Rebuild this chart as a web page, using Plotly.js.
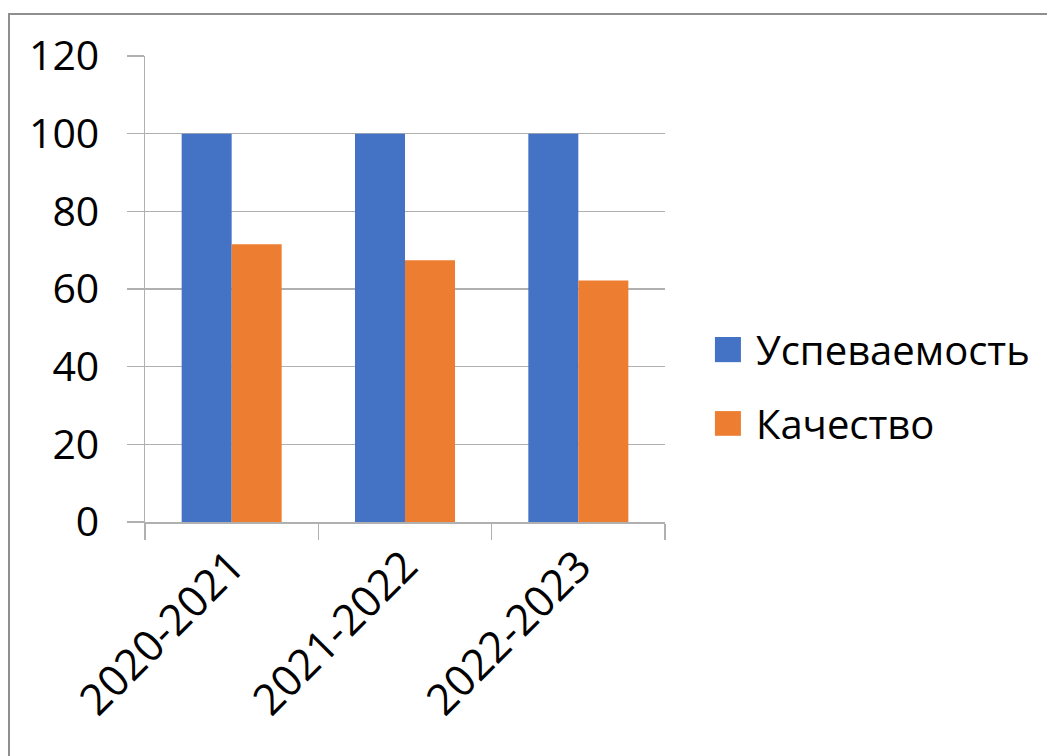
<!DOCTYPE html>
<html>
<head>
<meta charset="utf-8">
<script src="https://cdn.plot.ly/plotly-3.0.1.min.js"></script>
<style>
html,body{margin:0;padding:0;background:#fff;width:1047px;height:756px;overflow:hidden;}
#frame{position:absolute;left:8px;top:13px;width:1100px;height:800px;border-left:2px solid #8f8f8f;border-top:2px solid #8f8f8f;}
#chart{position:absolute;left:0;top:0;width:1047px;height:756px;}
</style>
</head>
<body>
<div id="frame"></div>
<div id="chart"></div>
<script>
const categories = ['2020-2021', '2021-2022', '2022-2023'];
const seriesNames = ['Успеваемость', 'Качество'];
const uspevaemost = [100, 100, 100];
const kachestvo = [71.5, 67.4, 62.2];
const colors = ['#4472C4', '#ED7D31'];

const font = "'Open Sans', 'Noto Sans', sans-serif";

const traces = [
  {type:'bar', x:categories, y:uspevaemost, name:seriesNames[0], marker:{color:colors[0]}, showlegend:false, hoverinfo:'skip'},
  {type:'bar', x:categories, y:kachestvo, name:seriesNames[1], marker:{color:colors[1]}, showlegend:false, hoverinfo:'skip'}
];

const legY = [[0.397,0.343],[0.238,0.185]];
const legTextY = [0.370, 0.211];
const shapes = [];
const annotations = [];
seriesNames.forEach((n,i)=>{
  shapes.push({type:'rect', xref:'paper', yref:'paper', x0:1.096, x1:1.146, y0:legY[i][1], y1:legY[i][0], fillcolor:colors[i], line:{width:0}});
  annotations.push({xref:'paper', yref:'paper', x:1.171, y:legTextY[i], xanchor:'left', yanchor:'middle', text:n, showarrow:false, font:{family:font, size:40, color:'#000'}});
});

const layout = {
  width:1047, height:756,
  margin:{l:145, r:382, t:56, b:234},
  paper_bgcolor:'rgba(0,0,0,0)', plot_bgcolor:'rgba(0,0,0,0)',
  barmode:'group', bargap:0.423, bargroupgap:0,
  showlegend:false,
  font:{family:font, color:'#000'},
  xaxis:{
    type:'category', tickangle:-45, tickson:'boundaries', ticks:'outside', ticklen:16, tickcolor:'#b0b0b0', tickwidth:1.5,
    showline:true, linecolor:'#b0b0b0', linewidth:1.5, showgrid:false, zeroline:false,
    tickfont:{family:font, size:43, color:'#000'}
  },
  yaxis:{
    range:[0,120], dtick:20, ticks:'outside', ticklen:17, tickcolor:'#b0b0b0', tickwidth:1.5,
    showline:true, linecolor:'#b0b0b0', linewidth:1.5, gridcolor:'#b0b0b0', gridwidth:1.5, zeroline:false,
    tickfont:{family:font, size:41, color:'#000'}, ticklabelstandoff:19
  },
  shapes:shapes,
  annotations:annotations
};

Plotly.newPlot('chart', traces, layout, {staticPlot:true, displayModeBar:false});
</script>
</body>
</html>
